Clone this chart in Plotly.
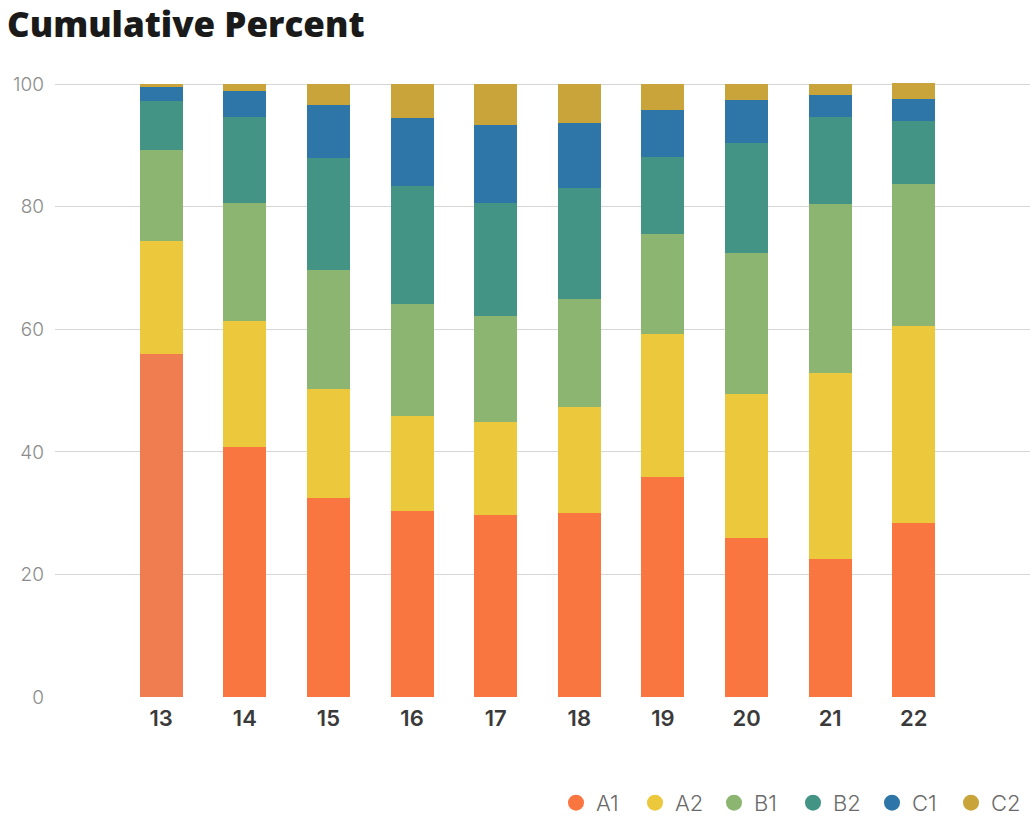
import plotly.graph_objects as go

# Share of each group (percent) per category
categories = [13, 14, 15, 16, 17, 18, 19, 20, 21, 22]
series_names = ["A1", "A2", "B1", "B2", "C1", "C2"]
a1 = [55.9, 40.8, 32.5, 30.3, 29.7, 30.1, 35.9, 26.0, 22.5, 28.4]
a2 = [18.5, 20.6, 17.8, 15.6, 15.1, 17.3, 23.3, 23.4, 30.3, 32.1]
b1 = [14.8, 19.2, 19.4, 18.3, 17.4, 17.5, 16.3, 23.0, 27.6, 23.2]
b2 = [8.1, 14.0, 18.3, 19.2, 18.4, 18.1, 12.6, 18.0, 14.2, 10.3]
c1 = [2.2, 4.3, 8.6, 11.0, 12.8, 10.6, 7.7, 7.0, 3.7, 3.5]
c2 = [0.5, 1.1, 3.4, 5.6, 6.6, 6.4, 4.2, 2.6, 1.7, 2.7]
y_ticks = [0, 20, 40, 60, 80, 100]

series_values = [a1, a2, b1, b2, c1, c2]
colors = ["#F97640", "#EBC83C", "#8BB571", "#439485", "#2E76A8", "#C9A43A"]

fig = go.Figure()

for name, vals, col in zip(series_names, series_values, colors):
    bar_colors = [col] * len(categories)
    if name == "A1":
        bar_colors[0] = "#F07D50"
    fig.add_trace(go.Bar(
        x=categories, y=vals, name=name,
        marker=dict(color=bar_colors, line=dict(width=0)),
        width=0.515, showlegend=False, hoverinfo="x+y+name",
    ))
    # circular legend swatch
    fig.add_trace(go.Scatter(
        x=[None], y=[None], mode="markers", name=name,
        marker=dict(symbol="circle", size=18, color=col),
        showlegend=True,
    ))

fig.update_layout(
    barmode="stack",
    width=1030, height=816,
    margin=dict(l=55, r=0, t=78, b=119, autoexpand=False),
    plot_bgcolor="white", paper_bgcolor="white",
    font=dict(family="Inter, sans-serif"),
    title=dict(
        text="Cumulative Percent",
        font=dict(family="Open Sans, sans-serif", size=35, color="#1a1a1a", weight=800),
        x=7 / 1030, xanchor="left", xref="container",
        y=1 - 25 / 816, yanchor="middle", yref="container",
    ),
    xaxis=dict(
        range=[11.73, 23.39], tickmode="array", tickvals=categories,
        ticktext=[str(c) for c in categories],
        showgrid=False, zeroline=False, showline=False, ticks="",
        ticklabelstandoff=6, automargin=False,
        tickfont=dict(size=22, color="#3a3a3a", weight=600),
    ),
    yaxis=dict(
        range=[0, 101], tickmode="array", tickvals=y_ticks,
        showgrid=True, gridcolor="#d6d6d6", gridwidth=1,
        zeroline=False, showline=False, ticks="",
        ticklabelstandoff=10, automargin=False,
        tickfont=dict(size=19, color="#8c8c8c", weight=300),
    ),
    legend=dict(
        orientation="h", x=1.0, xanchor="right", y=-0.171, yanchor="middle",
        font=dict(size=22, color="#6a6a6a", weight=300),
        itemwidth=30, traceorder="normal", entrywidth=34,
    ),
    bargap=0.0,
)

fig.write_html("out.html")
